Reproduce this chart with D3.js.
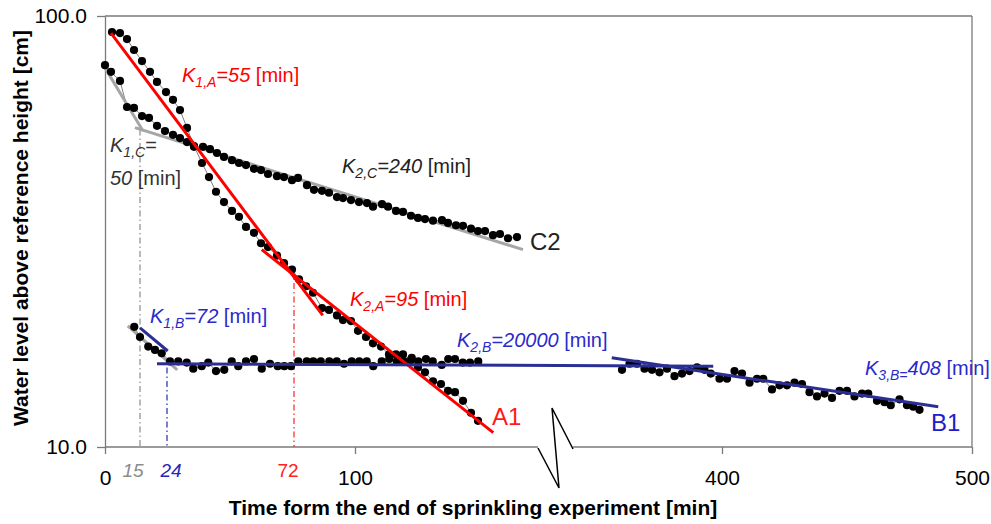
<!DOCTYPE html>
<html lang="en">
<head>
<meta charset="UTF-8">
<title>Water level above reference height</title>
<script src="https://d3js.org/d3.v7.min.js"></script>
<style>
  body { margin: 0; background: #fff; font-family: "Liberation Sans", Arial, sans-serif; }
  svg { display: block; }
  .axis text { font-size: 21px; fill: #000; font-family: "Liberation Sans", Arial, sans-serif; }
  .axis line, .axis path { stroke: #7a7a7a; stroke-width: 1.3; }
  .conn { fill: none; stroke: #808080; stroke-width: 1; }
  .fit { fill: none; stroke-width: 3; }
  .title { font-size: 21px; font-weight: bold; }
  .klabel { font-size: 20px; }
</style>
</head>
<body>
<svg width="991" height="524"></svg>
<script>
// ---- data (time in min, water level in cm) ----
const a1Time = [2.8, 6, 8.8, 11.6, 14.8, 18, 20.8, 24.4, 27.2, 30, 32.8, 35.6, 38.8, 41.6, 44.4, 47.6, 50.8, 53.6, 56.4, 59.6,
  62.4, 65.2, 68.8, 71.6, 74.8, 77.6, 80.4, 83.2, 86.8, 89.6, 92.8, 95.2, 98.4, 101.2, 104.4, 107.2, 110.4, 113.6, 116.4, 119.2,
  122.4, 125.2, 128, 131.2, 134.4, 137.2, 140, 143.2, 146.4, 149.2];
const a1Level = [91.8, 91.3, 88.4, 83.4, 78.6, 74.2, 70.3, 66.6, 63.9, 60.5, 55.0, 49.9, 45.6, 42.3, 39.1, 37.0, 35.3, 34.2, 32.4, 31.4,
  29.7, 29.1, 27.8, 26.7, 25.8, 24.5, 23.6, 22.8, 21.0, 20.8, 20.2, 19.7, 19.6, 18.6, 18.0, 17.4, 17.1, 16.4, 16.4, 16.4,
  15.9, 15.3, 14.9, 14.2, 14.0, 13.5, 13.4, 12.8, 12.0, 11.5];

const c2Time = [0, 2.4, 6, 8.8, 11.6, 14.8, 17.6, 20.8, 24, 27.2, 30, 32.8, 35.6, 39.2, 42, 44.8, 47.6, 50.8, 53.6, 56.4,
  59.6, 62.4, 65.2, 68.8, 71.6, 74.8, 77.2, 80.8, 83.6, 86.8, 89.6, 92.8, 95.2, 98.4, 101.6, 104.8, 107.2, 110.8, 113.2, 116.4,
  119.2, 122.4, 125.2, 128, 131.2, 134.8, 137.2, 140.4, 143.2, 146.4, 149.2, 152, 155.2, 158, 161.2, 164.8];
const c2Level = [76.9, 74.2, 70.7, 61.5, 61.2, 58.6, 58.0, 55.6, 54.1, 53.0, 52.1, 51.0, 49.7, 49.7, 49.1, 48.1, 47.1, 46.3, 45.6, 45.1,
  44.2, 43.9, 43.0, 42.5, 42.3, 41.6, 42.1, 40.5, 39.5, 39.3, 38.9, 38.0, 37.8, 37.4, 37.0, 36.8, 36.1, 36.6, 36.1, 35.3,
  35.1, 34.4, 34.0, 33.8, 33.5, 33.6, 33.1, 32.7, 32.6, 32.1, 31.7, 31.7, 31.0, 31.2, 30.5, 30.7];

const b1EarlyTime = [11.7, 14, 17.3, 20, 22.7, 26, 29.3, 32.7, 35.3, 38.7, 41.3, 44.4, 47.7, 50.7, 53.3, 56.4, 59.6, 62.7, 66, 69.1,
  71.7, 74.4, 77.3, 80.7, 83.3, 86.3, 89.7, 92.7, 95.6, 98.7, 101.7, 104.7, 107.3, 110.7, 113.7, 116.7, 119.6, 122.7, 125.3, 128.4,
  131.1, 134.7, 137.3, 140, 143.1, 146, 149.3];
const b1EarlyLevel = [19.0, 18.0, 17.1, 16.8, 16.5, 15.8, 15.8, 15.7, 15.2, 15.4, 15.7, 15.0, 15.1, 15.8, 15.4, 15.8, 16.0, 15.2, 15.6, 15.4,
  15.4, 15.4, 15.8, 15.8, 15.8, 15.8, 15.8, 15.8, 15.6, 15.8, 15.8, 15.8, 15.4, 15.8, 16.0, 15.8, 15.8, 16.1, 15.8, 16.0,
  15.8, 15.5, 16.0, 16.0, 15.7, 15.7, 15.8];

const b1LateTime = [360, 363, 366, 369, 372, 375, 378, 381, 384, 387, 390, 393, 395.5, 399, 402, 405, 408, 411, 414, 416.5,
  420, 423, 426, 429, 432, 435, 438, 441, 444, 447, 450, 453, 456, 458.5, 462, 465, 467.5, 471, 474, 476.5, 479];
const b1LateLevel = [15.1, 15.6, 15.6, 15.2, 15.1, 14.9, 15.2, 14.6, 14.8, 15.0, 15.3, 15.1, 14.8, 14.4, 14.4, 15.0, 14.8, 14.1, 14.4, 14.4,
  13.6, 13.9, 13.9, 14.1, 14.0, 13.4, 13.1, 13.3, 13.0, 13.5, 13.5, 13.1, 13.3, 13.3, 12.8, 12.7, 12.5, 12.9, 12.5, 12.4, 12.2];

// fitted recession lines, [time, level] end points
const fitK1A = [[2.4, 91.3], [87.1, 20.2]];
const fitK2A = [[62.7, 28.7], [155.3, 10.8]];
const fitK1C = [[0, 75.8], [15.2, 54.1]];
const fitK2C = [[12, 55.1], [167.2, 28.7]];
const fitK1Bgray = [[9.1, 19.1], [28.9, 15.1]];
const fitK1B = [[14, 18.9], [25.1, 16.7]];
const fitK2B = [[20.8, 15.6], [396.5, 15.4]];
const fitK3B = [[355.9, 16.1], [486.5, 12.4]];

// break points (time) and ticks
const xBreak = [173.2, 340.4];
const xTicks = [0, 100, 400, 500];
const yTicks = [10, 100];
const markTimes = [14, 24.8, 75.6];        // dash-dot verticals
const markTops = [54.5, 15.3, 25.8];
const markLabels = ["15", "24", "72"];

const red = "#ff0000", blue = "#2b2f94", blueText = "#2a2acc", gray = "#a6a6a6", dark = "#333";

const svg = d3.select("svg");
const plotLeft = 105, plotRight = 972, plotTop = 16, plotBottom = 447;

const x = d3.scaleLinear()
  .domain([0, xBreak[0], xBreak[1], 500])
  .range([plotLeft, 538, 573, plotRight]);
const y = d3.scaleLog().domain([10, 100]).range([plotBottom, plotTop]);

// ---- axes ----
const gx = svg.append("g").attr("class", "axis")
  .attr("transform", `translate(0,${plotBottom})`)
  .call(d3.axisBottom(x).tickValues(xTicks).tickSize(7).tickSizeOuter(0).tickPadding(16).tickFormat(d3.format("d")));
gx.select(".domain").remove();
gx.append("line").attr("x1", x(0)).attr("x2", x(xBreak[0]));
gx.append("line").attr("x1", x(xBreak[1])).attr("x2", x(500));
// break zigzag
const bx = x(xBreak[0]);
svg.append("path")
  .attr("d", `M${bx},${plotBottom + 1} l21,40 l-7,-80 L${x(xBreak[1])},${plotBottom + 2}`)
  .style("fill", "none").style("stroke", "#000").style("stroke-width", 1.5);

svg.append("g").attr("class", "axis")
  .attr("transform", `translate(${plotLeft},0)`)
  .call(d3.axisLeft(y).tickValues(yTicks).tickSize(8).tickSizeOuter(0).tickPadding(10).tickFormat(d3.format(".1f")));

// box top and right
svg.append("line").attr("x1", x(0)).attr("x2", x(500)).attr("y1", y(100)).attr("y2", y(100))
  .attr("stroke", "#7a7a7a").attr("stroke-width", 1.3);
svg.append("line").attr("x1", x(500)).attr("x2", x(500)).attr("y1", y(100)).attr("y2", y(10))
  .attr("stroke", "#7a7a7a").attr("stroke-width", 1.3);

// axis titles
svg.append("text").attr("class", "title")
  .attr("x", 473).attr("y", 515).attr("text-anchor", "middle")
  .text("Time form the end of sprinkling experiment [min]");
svg.append("text").attr("class", "title")
  .attr("transform", "translate(28,228) rotate(-90)").attr("text-anchor", "middle")
  .text("Water level above reference height [cm]");

// ---- dash-dot marker lines ----
const markColors = ["#8c8c8c", "#2626b8", "#ff2020"];
markTimes.forEach((t, i) => {
  svg.append("line")
    .attr("x1", x(t)).attr("x2", x(t)).attr("y1", y(markTops[i])).attr("y2", y(10))
    .attr("stroke", markColors[i]).attr("stroke-width", 1.2)
    .attr("stroke-dasharray", "6,3,1.5,3");
});
const markDx = [-7, 4, -6];
markLabels.forEach((s, i) => {
  svg.append("text")
    .attr("x", x(markTimes[i]) + markDx[i]).attr("y", plotBottom + 30)
    .attr("text-anchor", "middle")
    .attr("fill", markColors[i])
    .style("font-size", "19px")
    .style("font-style", i < 2 ? "italic" : "normal")
    .text(s);
});

// ---- series ----
const line = d3.line().x(d => x(d[0])).y(d => y(d[1]));
const series = [
  d3.zip(a1Time, a1Level),
  d3.zip(c2Time, c2Level),
  d3.zip(b1EarlyTime, b1EarlyLevel),
  d3.zip(b1LateTime, b1LateLevel)
];

svg.append("g").selectAll("path").data(series).join("path")
  .attr("class", "conn").attr("d", line);

// gray fits under dots
const grayFits = [fitK1C, fitK2C, fitK1Bgray];
svg.append("g").selectAll("path").data(grayFits).join("path")
  .attr("class", "fit").attr("stroke", gray).attr("d", line);

svg.append("g").selectAll("g").data(series).join("g")
  .selectAll("circle").data(d => d).join("circle")
  .attr("cx", d => x(d[0])).attr("cy", d => y(d[1])).attr("r", 4.1).attr("fill", "#000");

const colorFits = [
  { pts: fitK1A, c: red }, { pts: fitK2A, c: red },
  { pts: fitK1B, c: blue }, { pts: fitK2B, c: blue }, { pts: fitK3B, c: blue }
];
svg.append("g").selectAll("path").data(colorFits).join("path")
  .attr("class", "fit").attr("stroke", d => d.c).attr("d", d => line(d.pts));

// ---- annotations ----
function kLabel(t, v, sub, value, color, subTail) {
  const txt = svg.append("text").attr("class", "klabel")
    .attr("x", x(t)).attr("y", y(v)).attr("fill", color);
  txt.append("tspan").style("font-style", "italic").text("K");
  txt.append("tspan").attr("dy", 5).style("font-size", "14px").style("font-style", "italic").text(sub);
  txt.append("tspan").attr("dy", -5).style("font-style", "italic").text(subTail ? value : "=" + value);
  txt.append("tspan").text(" [min]");
  return txt;
}
kLabel(30.8, 70.4, "1,A", "55", red);
kLabel(98, 21.2, "2,A", "95", red);
kLabel(18, 19.4, "1,B", "72", blueText);
kLabel(140.8, 17.1, "2,B", "20000", blueText);
kLabel(457.2, 14.7, "3,B=", "408", blueText, true);
kLabel(94.8, 43.2, "2,C", "240", "#222");

const k1c = svg.append("text").attr("class", "klabel").attr("x", x(2)).attr("y", y(48.4)).attr("fill", dark);
k1c.append("tspan").style("font-style", "italic").text("K");
k1c.append("tspan").attr("dy", 5).style("font-size", "14px").style("font-style", "italic").text("1,C");
k1c.append("tspan").attr("dy", -5).text("=");
const k1c2 = svg.append("text").attr("class", "klabel").attr("x", x(2)).attr("y", y(40.5)).attr("fill", dark);
k1c2.append("tspan").style("font-style", "italic").text("50");
k1c2.append("tspan").text(" [min]");

// series names
const names = [
  { s: "A1", t: 154.8, v: 11.25, c: "#ff1a1a" },
  { s: "C2", t: 170, v: 28.7, c: "#222" },
  { s: "B1", t: 483.6, v: 10.9, c: "#2020c8" }
];
svg.append("g").selectAll("text").data(names).join("text")
  .attr("x", d => x(d.t)).attr("y", d => y(d.v))
  .attr("fill", d => d.c).style("font-size", "24px")
  .text(d => d.s);
</script>
</body>
</html>
